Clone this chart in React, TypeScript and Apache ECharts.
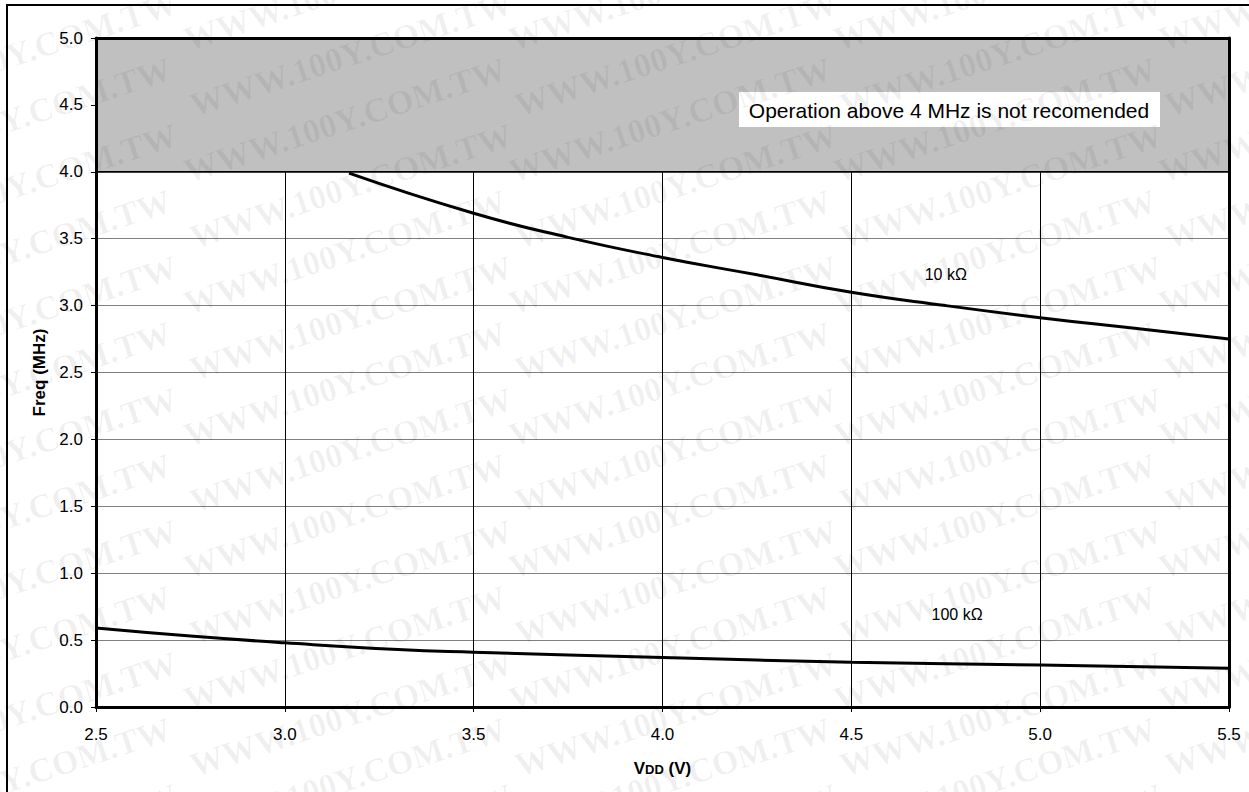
import React, { useEffect, useRef } from 'react';
import * as echarts from 'echarts';

// ---- data ----
const vdd10k = [3.17, 3.5, 3.75, 4.0, 4.25, 4.5, 4.75, 5.0, 5.25, 5.5];
const freq10k = [3.99, 3.69, 3.51, 3.36, 3.23, 3.1, 3.0, 2.91, 2.83, 2.75];
const vdd100k = [2.5, 2.75, 3.0, 3.3, 3.5, 4.0, 4.5, 5.0, 5.5];
const freq100k = [0.59, 0.53, 0.48, 0.43, 0.41, 0.37, 0.335, 0.314, 0.29];
const curveNames = ['10 kΩ', '100 kΩ'];
const curveLabelAt = [
  [4.75, 3.23],
  [4.78, 0.69],
];
const bandLimits = [4.0, 5.0];
const bandNote = 'Operation above 4 MHz is not recomended';
const xRange = [2.5, 5.5];
const yRange = [0, 5];
const tickStep = 0.5;
const watermark = 'WWW.100Y.COM.TW';

const FONT = '"Liberation Sans", Arial, Helvetica, sans-serif';

export default function App() {
  const ref = useRef<HTMLDivElement>(null);
  useEffect(() => {
    if (!ref.current) return;
    const chart = echarts.init(ref.current, null, { renderer: 'svg' });

    const base = { type: 'value', min: xRange[0], max: xRange[1], interval: tickStep };
    const ybase = { type: 'value', min: yRange[0], max: yRange[1], interval: tickStep };
    const blackLine = { show: true, onZero: false, lineStyle: { color: '#000', width: 3 } };

    // faint site watermark tiled over the whole page (decoration)
    const wm: any[] = [];
    const cols = [-150, 185, 510, 835, 1160];
    for (let r = -1; r < 14; r++) {
      for (let c = 0; c < cols.length; c++) {
        wm.push({
          type: 'text',
          x: cols[c] + (r % 2) * 6,
          y: 40 + r * 66,
          rotation: (18 * Math.PI) / 180,
          silent: true,
          z: 100,
          style: {
            text: watermark,
            font: 'bold 34px "Liberation Serif", "Times New Roman", serif',
            fill: 'rgba(0,0,0,0.06)',
            textVerticalAlign: 'middle',
            verticalAlign: 'middle',
          },
        });
      }
    }

    const option: any = {
      animation: false,
      backgroundColor: '#ffffff',
      grid: { left: 96, top: 38, right: 20, bottom: 85, containLabel: false },
      xAxis: [
        {
          ...base,
          position: 'bottom',
          z: 10,
          axisLine: blackLine,
          axisTick: { show: true, length: 5, lineStyle: { color: '#000', width: 1 } },
          axisLabel: { formatter: (v: number) => v.toFixed(1), fontSize: 17, color: '#000', fontFamily: FONT, margin: 19 },
          splitLine: { show: false },
          name: '{v|V}{s|DD}{v| (V)}',
          nameLocation: 'middle',
          nameGap: 50,
          nameTextStyle: {
            rich: {
              v: { fontSize: 17, fontWeight: 'bold', color: '#000', fontFamily: FONT, lineHeight: 20, verticalAlign: 'bottom' },
              s: { fontSize: 13, fontWeight: 'bold', color: '#000', fontFamily: FONT, lineHeight: 20, verticalAlign: 'bottom', padding: [0, 0, 1, 0] },
            },
          },
        },
        { ...base, position: 'top', z: 10, axisLine: blackLine, axisTick: { show: false }, axisLabel: { show: false }, splitLine: { show: false } },
        {
          ...base,
          position: 'bottom',
          z: 0,
          axisLine: { show: false },
          axisTick: { show: false },
          axisLabel: { show: false },
          splitLine: { show: true, lineStyle: { color: '#000', width: 1 } },
        },
      ],
      yAxis: [
        {
          ...ybase,
          position: 'left',
          z: 10,
          axisLine: blackLine,
          axisTick: { show: true, length: 5, lineStyle: { color: '#000', width: 1 } },
          axisLabel: { formatter: (v: number) => v.toFixed(1), fontSize: 17, color: '#000', fontFamily: FONT, margin: 13 },
          splitLine: { show: false },
          name: 'Freq (MHz)',
          nameLocation: 'middle',
          nameGap: 48,
          nameRotate: 90,
          nameTextStyle: { fontSize: 17, fontWeight: 'bold', color: '#000', fontFamily: FONT },
        },
        { ...ybase, position: 'right', z: 10, axisLine: blackLine, axisTick: { show: false }, axisLabel: { show: false }, splitLine: { show: false } },
        {
          ...ybase,
          position: 'left',
          z: 0,
          axisLine: { show: false },
          axisTick: { show: false },
          axisLabel: { show: false },
          splitLine: { show: true, lineStyle: { color: '#808080', width: 1 } },
        },
      ],
      series: [
        {
          type: 'line',
          name: curveNames[0],
          xAxisIndex: 0,
          yAxisIndex: 0,
          data: vdd10k.map((v, i) => [v, freq10k[i]]),
          smooth: true,
          symbol: 'none',
          lineStyle: { color: '#000', width: 3 },
          z: 5,
          markPoint: {
            symbol: 'circle',
            symbolSize: 1,
            itemStyle: { color: 'rgba(0,0,0,0)' },
            label: { show: true, position: 'inside', color: '#000', fontSize: 16, fontFamily: FONT, formatter: curveNames[0] },
            data: [{ coord: curveLabelAt[0] }],
          },
        },
        {
          type: 'line',
          name: curveNames[1],
          xAxisIndex: 0,
          yAxisIndex: 0,
          data: vdd100k.map((v, i) => [v, freq100k[i]]),
          smooth: true,
          symbol: 'none',
          lineStyle: { color: '#000', width: 3 },
          z: 4,
          markPoint: {
            symbol: 'circle',
            symbolSize: 1,
            itemStyle: { color: 'rgba(0,0,0,0)' },
            label: { show: true, position: 'inside', color: '#000', fontSize: 16, fontFamily: FONT, formatter: curveNames[1] },
            data: [{ coord: curveLabelAt[1] }],
          },
          markArea: {
            silent: true,
            itemStyle: { color: '#C0C0C0', borderColor: '#000', borderWidth: 1.5, opacity: 1 },
            data: [[{ yAxis: bandLimits[0] }, { yAxis: bandLimits[1] }]],
          },
        },
      ],
      graphic: [
        { type: 'line', shape: { x1: 7, y1: 4, x2: 7, y2: 792 }, style: { stroke: '#000', lineWidth: 2 }, z: 60, silent: true },
        { type: 'line', shape: { x1: 6, y1: 5, x2: 1249, y2: 5 }, style: { stroke: '#000', lineWidth: 2 }, z: 60, silent: true },
        { type: 'rect', shape: { x: 739, y: 92, width: 421, height: 35 }, style: { fill: '#fff' }, z: 50, silent: true },
        {
          type: 'text',
          x: 949,
          y: 110,
          z: 51,
          silent: true,
          style: {
            text: bandNote,
            fontSize: 21,
            fontFamily: FONT,
            fill: '#000',
            align: 'center',
            verticalAlign: 'middle',
            textAlign: 'center',
            textVerticalAlign: 'middle',
          },
        },
        ...wm,
      ],
    };
    chart.setOption(option);
    return () => chart.dispose();
  }, []);
  return <div ref={ref} style={{ position: 'fixed', left: 0, top: 0, width: 1249, height: 792 }} />;
}
